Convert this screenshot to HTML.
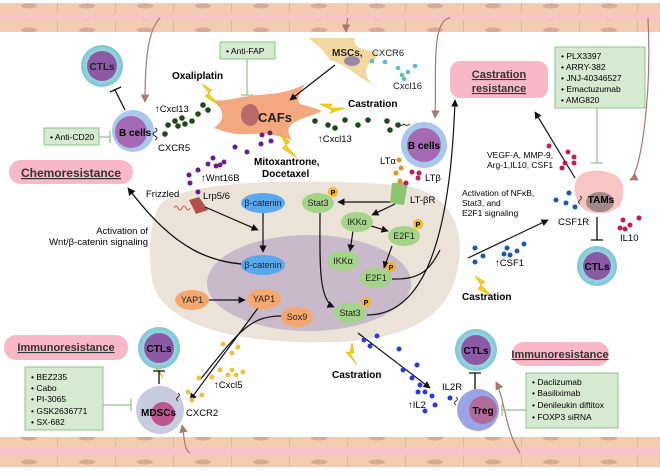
<!DOCTYPE html>
<html><head><meta charset="utf-8"><style>
body{margin:0;background:#fff}
svg{display:block;font-family:"Liberation Sans",sans-serif}
.b{font-weight:bold}
</style></head><body>
<svg width="660" height="473" viewBox="0 0 660 473" xmlns="http://www.w3.org/2000/svg">
<defs>
<marker id="ar" viewBox="0 0 10 10" refX="9" refY="5" markerWidth="6" markerHeight="6" orient="auto"><path d="M0,0L10,5L0,10z" fill="#111"/></marker>
<marker id="arb" viewBox="0 0 10 10" refX="9" refY="5" markerWidth="7" markerHeight="7" orient="auto"><path d="M0,0L10,5L0,10z" fill="#a87870"/></marker>
<pattern id="ves" width="58" height="12" patternUnits="userSpaceOnUse"><rect width="58" height="12" fill="#f2cbb0"/><line x1="57.5" y1="0" x2="57.5" y2="12" stroke="#e0b698"/><ellipse cx="29" cy="6" rx="8" ry="2.5" fill="#d8aa96"/></pattern>
<radialGradient id="ctl"><stop offset="0.7" stop-color="#9ad6e0"/><stop offset="1" stop-color="#7cc4d4"/></radialGradient>
</defs>
<!-- vessels -->
<rect x="0" y="3" width="660" height="11" fill="url(#ves)"/>
<rect x="0" y="13" width="660" height="8" fill="#f6c4c8"/>
<rect x="0" y="20" width="660" height="12" fill="url(#ves)"/>
<rect x="0" y="437" width="660" height="11" fill="url(#ves)"/>
<rect x="0" y="447" width="660" height="8" fill="#f6c4c8"/>
<rect x="0" y="455" width="660" height="12" fill="url(#ves)"/>

<!-- tumor cell -->
<path d="M160,205 C180,180 300,178 400,185 C450,190 470,230 455,280 C440,330 380,345 300,342 C220,340 160,320 152,280 C148,250 150,220 160,205z" fill="#ece3d8"/>
<ellipse cx="309" cy="283" rx="102" ry="48" fill="#c9b9cb"/>

<!-- brown vessel arrows -->
<g fill="none" stroke="#a87870" stroke-width="1.2">
<path d="M160,18 C148,30 145,60 145,102" marker-end="url(#arb)"/>
<path d="M348,18 C346,25 346,28 346,32" marker-end="url(#arb)"/>
<path d="M450,18 C430,20 437,80 435,118" marker-end="url(#arb)"/>
<path d="M648,18 C652,100 640,175 630,180" marker-end="url(#arb)"/>
<path d="M520,453 C505,430 505,400 496,382" marker-end="url(#arb)"/>
<path d="M190,453 C184,450 185,440 182,425" marker-end="url(#arb)"/>
</g>

<!-- CAFs -->
<path d="M212,100 C228,102 240,96 258,95 C275,94 290,92 305,84 C300,92 296,100 300,104 C308,106 315,108 322,111 C312,116 300,118 292,124 C285,130 290,136 292,140 C280,136 268,133 250,134 C235,135 225,132 214,128 C225,120 226,110 212,100z" fill="#f4a880"/>
<ellipse cx="250" cy="115" rx="9" ry="11" fill="#b86a6a"/>
<text x="258" y="122" class="b" font-size="13" fill="#222">CAFs</text>
<!-- MSCs -->
<path d="M308,38 L355,38 C352,46 360,50 378,52 L375,60 C366,64 362,74 372,84 C356,76 345,64 330,60 C325,52 318,45 308,38z" fill="#f0d8a0"/>
<ellipse cx="352" cy="61" rx="8" ry="5" fill="#9a8aa8"/>
<text x="332" y="56" class="b" font-size="10" fill="#222">MSCs,</text>
<text x="372" y="56" font-size="9.5" fill="#222">CXCR6</text>
<text x="393" y="89" font-size="9.5" fill="#222">Cxcl16</text>
<g fill="#5cc0c0"><circle cx="372" cy="61" r="2.3"/><circle cx="385" cy="62" r="2.3"/><circle cx="398" cy="68" r="2.3"/><circle cx="402" cy="75" r="2.3"/><circle cx="408" cy="72" r="2.3"/><circle cx="415" cy="66" r="2.3"/><circle cx="404" cy="79" r="2.3"/></g>
<line x1="335" y1="65" x2="290" y2="100" stroke="#111" stroke-width="1.2" marker-end="url(#ar)"/>

<!-- Anti-FAP -->
<rect x="220" y="42" width="55" height="17" fill="#d6ead2" stroke="#8cc488"/>
<text x="226" y="54" font-size="8.5">• Anti-FAP</text>
<line x1="247" y1="59" x2="247" y2="95" stroke="#8cc488" stroke-width="1.2"/><line x1="241" y1="95" x2="253" y2="95" stroke="#8cc488" stroke-width="1.2"/>

<text x="172" y="79" class="b" font-size="10">Oxaliplatin</text>
<text x="348" y="107" class="b" font-size="10">Castration</text>
<text x="254" y="165" class="b" font-size="10">Mitoxantrone,</text>
<text x="262" y="177" class="b" font-size="10">Docetaxel</text>
<!-- lightning -->
<g fill="#f4d010" stroke="#d8a800" stroke-width="0.5">
<path d="M202,84 L212,90 L208,93 L220,106 L205,96 L209,93z"/>
<path d="M320,104 L332,104 L330,108 L345,108 L330,113 L332,110z"/>
<path d="M280,134 L290,142 L286,145 L297,158 L282,148 L286,145z"/>
<path d="M475,276 L485,282 L481,285 L492,296 L478,289 L481,285z"/>
<path d="M160,357 L162,367 L158,367 L163,378 L154,366 L158,366z"/>
<path d="M352,343 L354,353 L350,353 L357,365 L346,352 L350,352z"/>
</g>

<!-- green dots Cxcl13 -->
<g fill="#1e4a1e">
<circle cx="165" cy="134" r="2.8"/><circle cx="168" cy="125" r="2.8"/><circle cx="175" cy="121" r="2.8"/><circle cx="178" cy="126" r="2.8"/><circle cx="185" cy="124" r="2.8"/><circle cx="182" cy="118" r="2.8"/><circle cx="192" cy="121" r="2.8"/><circle cx="203" cy="105" r="2.8"/><circle cx="208" cy="110" r="2.8"/><circle cx="198" cy="114" r="2.8"/>
<circle cx="315" cy="121" r="2.8"/><circle cx="328" cy="125" r="2.8"/><circle cx="335" cy="128" r="2.8"/><circle cx="345" cy="120" r="2.8"/><circle cx="358" cy="125" r="2.8"/><circle cx="368" cy="120" r="2.8"/><circle cx="387" cy="121" r="2.8"/><circle cx="390" cy="130" r="2.8"/><circle cx="398" cy="125" r="2.8"/>
</g>
<text x="155" y="112" font-size="9.5">↑Cxcl13</text>
<text x="318" y="142" font-size="9.5">↑Cxcl13</text>

<!-- purple dots Wnt16B -->
<g fill="#6a1a8a">
<circle cx="190" cy="183" r="2.5"/><circle cx="189" cy="175" r="2.5"/><circle cx="198" cy="170" r="2.5"/><circle cx="208" cy="164" r="2.5"/><circle cx="213" cy="158" r="2.5"/><circle cx="220" cy="165" r="2.5"/><circle cx="216" cy="166" r="2.5"/><circle cx="224" cy="162" r="2.5"/><circle cx="235" cy="147" r="2.5"/><circle cx="247" cy="152" r="2.5"/><circle cx="261" cy="144" r="2.5"/><circle cx="262" cy="135" r="2.5"/><circle cx="270" cy="133" r="2.5"/><circle cx="271" cy="141" r="2.5"/><circle cx="198" cy="192" r="2.5"/>
</g>
<text x="201" y="181" font-size="9.5">↑Wnt16B</text>
<text x="146" y="197" font-size="9.5">Frizzled</text>
<text x="203" y="199" font-size="9.5">Lrp5/6</text>
<path d="M189,200 L199,197 L208,210 L196,214z" fill="#b05048"/>
<path d="M174,208 q2,-4 4,0 q2,4 4,0 q2,-4 4,0 q2,4 4,0" fill="none" stroke="#d06050" stroke-width="1"/>
<line x1="205" y1="207" x2="258" y2="230" stroke="#111" stroke-width="1.2" marker-end="url(#ar)"/>

<!-- left cells -->
<circle cx="102" cy="66" r="21" fill="url(#ctl)"/><circle cx="102" cy="66" r="15" fill="#8c5aa4"/>
<text x="102" y="70" text-anchor="middle" class="b" font-size="10" fill="#222">CTLs</text>
<path d="M125,110 L115,90 M110,92 L121,87" stroke="#111" stroke-width="1.3"/>
<circle cx="133" cy="131" r="21" fill="#a8c8ec"/><circle cx="131" cy="132" r="16" fill="#a66ab4"/>
<text x="119" y="136" class="b" font-size="10">B cells</text>
<path d="M155,128 q4,2 0,4 q-4,2 0,4 q4,2 0,4" fill="none" stroke="#333"/>
<text x="158" y="151" font-size="9.5">CXCR5</text>
<rect x="44" y="128" width="55" height="17" fill="#d6ead2" stroke="#8cc488"/>
<text x="50" y="140" font-size="8.5">• Anti-CD20</text>
<line x1="99" y1="137" x2="110" y2="137" stroke="#8cc488" stroke-width="1.2"/><line x1="110" y1="131" x2="110" y2="143" stroke="#8cc488" stroke-width="1.2"/>
<rect x="9" y="160" width="124" height="24" rx="12" fill="#f8b8c8"/>
<text x="71" y="177" text-anchor="middle" class="b" font-size="12" text-decoration="underline" fill="#333">Chemoresistance</text>
<path d="M262,265 C210,265 175,250 128,188" fill="none" stroke="#111" stroke-width="1.3" marker-end="url(#ar)"/>
<text x="148" y="234" text-anchor="end" font-size="9.5">Activation of</text>
<text x="148" y="245" text-anchor="end" font-size="9.5">Wnt/β-catenin signaling</text>

<!-- in-cell -->
<g stroke="#111" stroke-width="1.2" fill="none">
<line x1="263" y1="213" x2="263" y2="252" marker-end="url(#ar)"/>
<line x1="209" y1="300" x2="245" y2="300" marker-end="url(#ar)"/>
<line x1="397" y1="202" x2="338" y2="202" marker-end="url(#ar)"/>
<line x1="395" y1="204" x2="372" y2="215" marker-end="url(#ar)"/>
<line x1="371" y1="226" x2="388" y2="231" marker-end="url(#ar)"/>
<line x1="353" y1="231" x2="350" y2="251" marker-end="url(#ar)"/>
<line x1="392" y1="246" x2="384" y2="268" marker-end="url(#ar)"/>
<path d="M320,213 C320,260 318,300 334,307" marker-end="url(#ar)"/>
<path d="M258,308 L190,400" marker-end="url(#ar)"/>
<path d="M282,316 C250,316 240,330 200,380"/>
<path d="M392,279 C420,280 430,270 440,250"/>
<path d="M367,315 C420,315 450,250 455,100" marker-end="url(#ar)"/>
<path d="M468,258 L548,220" marker-end="url(#ar)"/>
<path d="M358,333 L430,388" marker-end="url(#ar)"/>
</g>
<g font-size="9" fill="#222" text-anchor="middle">
<ellipse cx="263" cy="203" rx="22" ry="10" fill="#5aa8ec"/><text x="263" y="206">β-catenin</text>
<ellipse cx="263" cy="265" rx="22" ry="10" fill="#5aa8ec"/><text x="263" y="268">β-catenin</text>
<ellipse cx="192" cy="300" rx="17" ry="10" fill="#f4a870"/><text x="192" y="303">YAP1</text>
<ellipse cx="264" cy="299" rx="17" ry="10" fill="#f4a870"/><text x="264" y="302">YAP1</text>
<ellipse cx="297" cy="317" rx="16" ry="10" fill="#f4a870"/><text x="297" y="320">Sox9</text>
<ellipse cx="318" cy="203" rx="16" ry="10" fill="#a4d488"/><text x="318" y="206">Stat3</text>
<ellipse cx="357" cy="222" rx="16" ry="10" fill="#a4d488"/><text x="357" y="225">IKKα</text>
<ellipse cx="404" cy="236" rx="16" ry="10" fill="#a4d488"/><text x="404" y="239">E2F1</text>
<ellipse cx="343" cy="261" rx="16" ry="10" fill="#a4d488"/><text x="343" y="264">IKKα</text>
<ellipse cx="376" cy="278" rx="16" ry="10" fill="#a4d488"/><text x="376" y="281">E2F1</text>
<ellipse cx="350" cy="313" rx="16" ry="10" fill="#a4d488"/><text x="350" y="316">Stat3</text>
</g>
<g font-size="7" class="b" text-anchor="middle">
<circle cx="333" cy="192" r="5" fill="#f4b820"/><text x="333" y="195">P</text>
<circle cx="418" cy="224" r="5" fill="#f4b820"/><text x="418" y="227">P</text>
<circle cx="391" cy="267" r="5" fill="#f4b820"/><text x="391" y="270">P</text>
<circle cx="366" cy="302" r="5" fill="#f4b820"/><text x="366" y="305">P</text>
</g>
<path d="M392,183 L408,182 L404,205 L390,203z" fill="#8cc470"/>
<text x="410" y="203" font-size="9.5">LT-βR</text>
<text x="380" y="164" font-size="9.5">LTα</text>
<text x="425" y="181" font-size="9.5">LTβ</text>
<g fill="#e89020"><circle cx="399" cy="160" r="2.5"/><circle cx="401" cy="168" r="2.5"/><circle cx="396" cy="173" r="2.5"/><circle cx="400" cy="181" r="2.5"/></g>
<g fill="#c8185a"><circle cx="412" cy="172" r="2.5"/><circle cx="419" cy="173" r="2.5"/><circle cx="418" cy="178" r="2.5"/><circle cx="406" cy="183" r="2.5"/></g>
<circle cx="424" cy="145" r="23" fill="#a8c8ec"/><circle cx="424" cy="145" r="17" fill="#a66ab4"/>
<text x="424" y="149" text-anchor="middle" class="b" font-size="10">B cells</text>
<path d="M398,124 q3,3 6,0 q3,3 6,0" fill="none" stroke="#333"/>

<!-- right top -->
<rect x="450" y="61" width="98" height="37" rx="10" fill="#f8b8c8"/>
<text x="499" y="78" text-anchor="middle" class="b" font-size="11" text-decoration="underline" fill="#333">Castration</text>
<text x="499" y="92" text-anchor="middle" class="b" font-size="11" text-decoration="underline" fill="#333">resistance</text>
<rect x="555" y="47" width="90" height="61" fill="#d6ead2" stroke="#8cc488"/>
<g font-size="8.5"><text x="561" y="59">• PLX3397</text><text x="561" y="70">• ARRY-382</text><text x="561" y="81">• JNJ-40346527</text><text x="561" y="92">• Emactuzumab</text><text x="561" y="103">• AMG820</text></g>
<line x1="597" y1="108" x2="597" y2="163" stroke="#8cc488" stroke-width="1.2"/><line x1="591" y1="163" x2="603" y2="163" stroke="#8cc488" stroke-width="1.2"/>
<line x1="575" y1="178" x2="535" y2="112" stroke="#111" stroke-width="1.2" marker-end="url(#ar)"/>
<text x="487" y="158" font-size="8.5">VEGF-A, MMP-9,</text>
<text x="487" y="168" font-size="8.5">Arg-1,IL10, CSF1</text>
<g fill="#c8185a"><circle cx="549" cy="146" r="2.5"/><circle cx="568" cy="152" r="2.5"/><circle cx="574" cy="157" r="2.5"/><circle cx="574" cy="163" r="2.5"/><circle cx="565" cy="163" r="2.5"/><circle cx="562" cy="168" r="2.5"/>
<circle cx="623" cy="220" r="2.5"/><circle cx="630" cy="225" r="2.5"/><circle cx="639" cy="218" r="2.5"/><circle cx="620" cy="228" r="2.5"/><circle cx="625" cy="229" r="2.5"/></g>
<text x="462" y="196" font-size="8.5">Activation of NFκB,</text>
<text x="462" y="206" font-size="8.5">Stat3, and</text>
<text x="462" y="216" font-size="8.5">E2F1 signaling</text>
<path d="M580,175 C590,168 605,170 615,175 C625,180 625,195 620,205 C612,215 595,215 585,210 C575,203 570,185 580,175z" fill="#f8c4c4"/>
<ellipse cx="600" cy="202" rx="14" ry="10" fill="#a0888c"/>
<text x="601" y="203" text-anchor="middle" class="b" font-size="10">TAMs</text>
<path d="M580,196 q3,2 0,4 q-3,2 0,4" fill="none" stroke="#333"/>
<text x="558" y="225" font-size="9.5">CSF1R</text>
<text x="620" y="241" font-size="9.5">IL10</text>
<path d="M597,217 L597,240 M591,240 L603,240" stroke="#111" stroke-width="1.3"/>
<circle cx="597" cy="266" r="20" fill="url(#ctl)"/><circle cx="597" cy="266" r="14" fill="#8c5aa4"/>
<text x="597" y="270" text-anchor="middle" class="b" font-size="10">CTLs</text>
<g fill="#1a5aa8"><circle cx="569" cy="193" r="2.5"/><circle cx="556" cy="200" r="2.5"/><circle cx="566" cy="203" r="2.5"/><circle cx="575" cy="207" r="2.5"/>
<circle cx="475" cy="248" r="2.5"/><circle cx="483" cy="256" r="2.5"/><circle cx="475" cy="262" r="2.5"/><circle cx="507" cy="248" r="2.5"/><circle cx="504" cy="254" r="2.5"/><circle cx="510" cy="255" r="2.5"/><circle cx="517" cy="251" r="2.5"/><circle cx="524" cy="244" r="2.5"/></g>
<text x="495" y="266" font-size="9.5">↑CSF1</text>
<text x="462" y="300" class="b" font-size="10">Castration</text>

<!-- right bottom -->
<text x="332" y="378" class="b" font-size="10">Castration</text>
<g fill="#2a3adc"><circle cx="364" cy="340" r="2.5"/><circle cx="377" cy="336" r="2.5"/><circle cx="370" cy="346" r="2.5"/><circle cx="399" cy="349" r="2.5"/><circle cx="417" cy="365" r="2.5"/><circle cx="403" cy="370" r="2.5"/><circle cx="412" cy="378" r="2.5"/><circle cx="420" cy="385" r="2.5"/><circle cx="418" cy="392" r="2.5"/><circle cx="425" cy="392" r="2.5"/><circle cx="432" cy="396" r="2.5"/><circle cx="435" cy="405" r="2.5"/><circle cx="425" cy="411" r="2.5"/><circle cx="450" cy="398" r="2.5"/></g>
<text x="408" y="408" font-size="9.5">↑IL2</text>
<text x="442" y="390" font-size="9.5">IL2R</text>
<circle cx="476" cy="350" r="21" fill="url(#ctl)"/><circle cx="476" cy="350" r="15" fill="#8c5aa4"/>
<text x="476" y="354" text-anchor="middle" class="b" font-size="10">CTLs</text>
<path d="M475,395 L475,373 M469,373 L481,373" stroke="#111" stroke-width="1.3"/>
<circle cx="478" cy="410" r="21" fill="#9aa4e4"/><circle cx="483" cy="410" r="14" fill="#b06a9c"/>
<text x="483" y="414" text-anchor="middle" class="b" font-size="10">Treg</text>
<path d="M456,397 q3,2 0,4 q-3,2 0,4" fill="none" stroke="#333"/>
<rect x="512" y="342" width="97" height="24" rx="12" fill="#f8b8c8"/>
<text x="560" y="358" text-anchor="middle" class="b" font-size="11" text-decoration="underline" fill="#333">Immunoresistance</text>
<rect x="526" y="373" width="92" height="55" fill="#d6ead2" stroke="#8cc488"/>
<g font-size="8.5"><text x="532" y="385">• Daclizumab</text><text x="532" y="396">• Basiliximab</text><text x="532" y="408">• Denileukin diftitox</text><text x="532" y="420">• FOXP3 siRNA</text></g>
<line x1="526" y1="410" x2="502" y2="410" stroke="#8cc488" stroke-width="1.2"/><line x1="502" y1="404" x2="502" y2="416" stroke="#8cc488" stroke-width="1.2"/>

<!-- left bottom -->
<rect x="4" y="335" width="124" height="25" rx="12" fill="#f8b8c8"/>
<text x="66" y="351" text-anchor="middle" class="b" font-size="11" text-decoration="underline" fill="#333">Immunoresistance</text>
<rect x="25" y="367" width="78" height="63" fill="#d6ead2" stroke="#8cc488"/>
<g font-size="8.5"><text x="31" y="380">• BEZ235</text><text x="31" y="391">• Cabo</text><text x="31" y="402">• PI-3065</text><text x="31" y="414">• GSK2636771</text><text x="31" y="425">• SX-682</text></g>
<line x1="103" y1="405" x2="131" y2="405" stroke="#8cc488" stroke-width="1.2"/><line x1="131" y1="399" x2="131" y2="411" stroke="#8cc488" stroke-width="1.2"/>
<circle cx="159" cy="348" r="21" fill="url(#ctl)"/><circle cx="159" cy="348" r="15" fill="#8c5aa4"/>
<text x="159" y="352" text-anchor="middle" class="b" font-size="10">CTLs</text>
<path d="M159,384 L159,371 M153,371 L165,371" stroke="#111" stroke-width="1.3"/>
<circle cx="160" cy="410" r="24" fill="#c8cce0"/><circle cx="163" cy="414" r="12" fill="#b8588c"/>
<text x="141" y="416" class="b" font-size="10">MDSCs</text>
<text x="186" y="416" font-size="9.5">CXCR2</text>
<path d="M178,393 q3,2 0,4 q-3,2 0,4" fill="none" stroke="#333"/>
<g fill="#f0c040"><circle cx="223" cy="344" r="2.5"/><circle cx="238" cy="347" r="2.5"/><circle cx="232" cy="353" r="2.5"/><circle cx="199" cy="378" r="2.5"/><circle cx="212" cy="377" r="2.5"/><circle cx="220" cy="370" r="2.5"/><circle cx="228" cy="375" r="2.5"/><circle cx="232" cy="370" r="2.5"/><circle cx="236" cy="375" r="2.5"/><circle cx="243" cy="372" r="2.5"/><circle cx="188" cy="392" r="2.5"/><circle cx="202" cy="395" r="2.5"/><circle cx="192" cy="400" r="2.5"/></g>
<text x="214" y="388" font-size="9.5">↑Cxcl5</text>
</svg>
</body></html>
